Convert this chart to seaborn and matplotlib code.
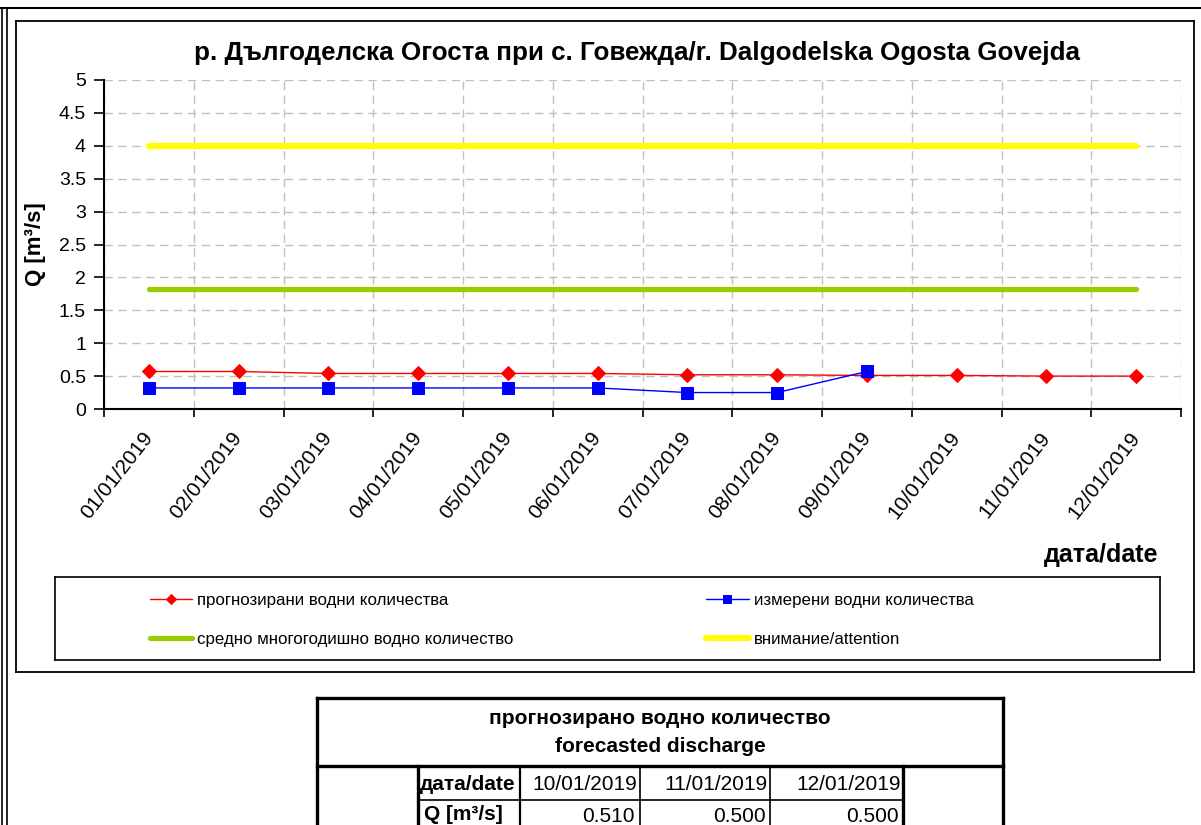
import numpy as np
import pandas as pd
import matplotlib
matplotlib.use("Agg")
import matplotlib.pyplot as plt
import seaborn as sns
from matplotlib.lines import Line2D

# ---------------- data ----------------
dates = ["01/01/2019", "02/01/2019", "03/01/2019", "04/01/2019", "05/01/2019", "06/01/2019",
         "07/01/2019", "08/01/2019", "09/01/2019", "10/01/2019", "11/01/2019", "12/01/2019"]
forecast = [0.57, 0.57, 0.54, 0.54, 0.54, 0.54, 0.52, 0.52, 0.51, 0.51, 0.50, 0.50]
measured_dates = dates[:9]
measured = [0.32, 0.32, 0.32, 0.32, 0.32, 0.32, 0.25, 0.25, 0.57]
mean_discharge = 1.82
attention_level = 4.0
y_ticks = [0, 0.5, 1, 1.5, 2, 2.5, 3, 3.5, 4, 4.5, 5]
y_tick_labels = ["0", "0.5", "1", "1.5", "2", "2.5", "3", "3.5", "4", "4.5", "5"]

title = "р. Дългоделска Огоста при с. Говежда/r. Dalgodelska Ogosta Govejda"
legend_labels = ["прогнозирани водни количества", "измерени водни количества",
                 "средно многогодишно водно количество", "внимание/attention"]
table_title = ["прогнозирано водно количество", "forecasted discharge"]
table_dates = ["10/01/2019", "11/01/2019", "12/01/2019"]
table_values = [0.510, 0.500, 0.500]

# ---------------- style ----------------
sns.set_theme(style="white")
plt.rcParams["font.family"] = ["Liberation Sans", "DejaVu Sans"]
plt.rcParams["text.color"] = "black"
plt.rcParams["axes.labelcolor"] = "black"
plt.rcParams["xtick.color"] = "black"
plt.rcParams["ytick.color"] = "black"

W, H = 1201, 825
fig = plt.figure(figsize=(W / 100, H / 100), dpi=100)
fig.patch.set_facecolor("white")


def fx(x):
    return x / W


def fy(y):
    return 1 - y / H


ax = fig.add_axes([fx(104), fy(409), fx(1181) - fx(104), fy(80) - fy(409)])
ax.set_facecolor("white")

df_f = pd.DataFrame({"date": dates, "Q": forecast})
df_m = pd.DataFrame({"date": measured_dates, "Q": measured})
df_mean = pd.DataFrame({"date": dates, "Q": [mean_discharge] * len(dates)})
df_att = pd.DataFrame({"date": dates, "Q": [attention_level] * len(dates)})

sns.lineplot(data=df_att, x="date", y="Q", ax=ax, color="#ffff00", linewidth=4.5,
             sort=False, label=legend_labels[3], solid_capstyle="round")
sns.lineplot(data=df_mean, x="date", y="Q", ax=ax, color="#99cc00", linewidth=3.8,
             sort=False, label=legend_labels[2], solid_capstyle="round")
sns.lineplot(data=df_f, x="date", y="Q", ax=ax, color="#ff0000", linewidth=1.0,
             marker="D", markersize=7, markeredgecolor="#ff0000", markerfacecolor="#ff0000",
             sort=False, label=legend_labels[0])
sns.lineplot(data=df_m, x="date", y="Q", ax=ax, color="#0000ff", linewidth=1.0,
             marker="s", markersize=8, markeredgecolor="#0000ff", markerfacecolor="#0000ff",
             sort=False, label=legend_labels[1])

handles, labels = ax.get_legend_handles_labels()
if ax.get_legend() is not None:
    ax.get_legend().remove()
hmap = dict(zip(labels, handles))

n = len(dates)
ax.set_xlim(-0.5, n - 0.5)
ax.set_ylim(0, 5)
ax.set_yticks(y_ticks)
ax.set_yticklabels(y_tick_labels, fontsize=14)
ax.set_xticks(range(n))
ax.set_xticklabels(dates, rotation=52, ha="right", va="center", rotation_mode="anchor", fontsize=15)
ax.set_xticks(np.arange(-0.5, n, 1.0), minor=True)
ax.tick_params(axis="x", which="major", length=0, pad=18)
ax.tick_params(axis="x", which="minor", length=6, width=1.2, color="black", direction="out", bottom=True)
ax.tick_params(axis="y", which="major", length=7, width=1.2, color="black", direction="out", left=True, pad=6)
ax.grid(False)
ax.yaxis.grid(True, which="major", linestyle=(0, (6, 4)), color="#c0c0c0", linewidth=1)
ax.xaxis.grid(True, which="minor", linestyle=(0, (6, 4)), color="#c0c0c0", linewidth=1)
ax.set_axisbelow(True)
for s in ["top", "right"]:
    ax.spines[s].set_visible(False)
for s in ["left", "bottom"]:
    ax.spines[s].set_color("black")
    ax.spines[s].set_linewidth(1.5)
ax.set_xlabel("")
ax.set_ylabel("Q [m³/s]", fontsize=16, fontweight="bold")
ax.yaxis.set_label_coords(-0.054, 0.5)

fig.text(fx(637), fy(53), title, ha="center", va="center", fontsize=18.7, fontweight="bold")
fig.text(fx(1158), fy(555), "дата/date", ha="right", va="center", fontsize=18, fontweight="bold")

# legend
order = [legend_labels[0], legend_labels[2], legend_labels[1], legend_labels[3]]
leg = fig.legend([hmap[l] for l in order], order, loc="center left",
                 bbox_to_anchor=(fx(150), fy(620)), ncol=2, frameon=False,
                 fontsize=12.2, handlelength=2.5, handletextpad=0.3, markerscale=0.7,
                 columnspacing=11.35, labelspacing=1.45, borderaxespad=0, borderpad=0)


def fline(x0, y0, x1, y1, lw=1.0, color="black"):
    fig.add_artist(Line2D([fx(x0), fx(x1)], [fy(y0), fy(y1)], color=color, linewidth=lw,
                          solid_capstyle="projecting"))


# frames
fline(0, 8, 1201, 8, lw=1.5)
fline(2, 8, 2, 825, lw=1.2)
fline(7, 8, 7, 825, lw=1.2)
fline(16, 21, 1194, 21, lw=1.3)
fline(16, 21, 16, 672, lw=1.3)
fline(1194, 21, 1194, 672, lw=1.3)
fline(16, 672, 1194, 672, lw=1.3)
# legend box
fline(55, 577, 1160, 577, lw=1.2)
fline(55, 660, 1160, 660, lw=1.2)
fline(55, 577, 55, 660, lw=1.2)
fline(1160, 577, 1160, 660, lw=1.2)

# table
tl, tr, tt = 317, 1003, 698
fline(tl, tt, tr, tt, lw=2.4)
fline(tl, tt, tl, 830, lw=2.4)
fline(tr, tt, tr, 830, lw=2.4)
fline(tl, 766, tr, 766, lw=2.4)
for xv, lw in [(418, 2.4), (520, 1.6), (640, 1.2), (770, 1.2), (903, 2.4)]:
    fline(xv, 766, xv, 830, lw=lw)
fline(418, 800, 903, 800, lw=1.2)

tfs = 15
fig.text(fx(660), fy(718), table_title[0], ha="center", va="center", fontsize=tfs, fontweight="bold")
fig.text(fx(660), fy(747), table_title[1], ha="center", va="center", fontsize=tfs, fontweight="bold")
fig.text(fx(420), fy(785), "дата/date", ha="left", va="center", fontsize=tfs, fontweight="bold")
fig.text(fx(424), fy(814), "Q [m³/s]", ha="left", va="center", fontsize=tfs, fontweight="bold")
for xr, d, v in zip([637, 768, 901], table_dates, table_values):
    fig.text(fx(xr), fy(785), d, ha="right", va="center", fontsize=tfs)
    fig.text(fx(xr - 2), fy(816), f"{v:.3f}", ha="right", va="center", fontsize=tfs)

fig.savefig("out.png", dpi=100, facecolor="white")
